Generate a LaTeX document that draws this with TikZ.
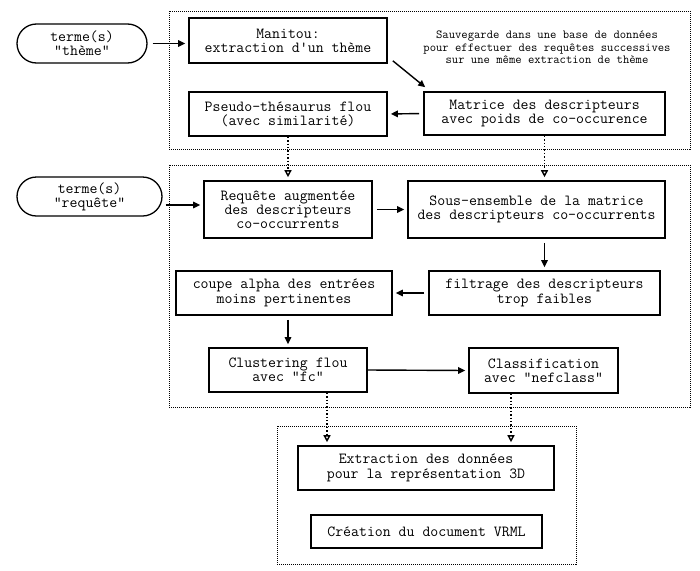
\documentclass[tikz,border=0pt]{standalone}
\usepackage{fontspec}
\usetikzlibrary{arrows.meta}

\begin{document}
\begin{tikzpicture}[x=1pt, y=-1pt, inner sep=3pt]
		\tikzstyle{every node}=[align=center, font=\ttfamily\fontsize{15.4}{14.2}\selectfont]
		\tikzstyle{boite}=[draw, line width=1.6pt]
		\tikzstyle{terme}=[draw, line width=1.3pt, rounded corners=19.5pt]
		\tikzstyle{fleche}=[line width=1.4pt, -{Triangle[length=7pt, width=6.5pt]}, shorten <=4pt, shorten >=3pt]
		\tikzstyle{pointille}=[line width=1.4pt, dotted, -{Triangle[open, length=7pt, width=7pt]}, shorten >=3pt]
		\tikzstyle{cadre}=[line width=0.9pt, dash pattern=on 1pt off 1pt]
		\useasboundingbox (0, 0) rectangle (700, 570);

			% les trois cadres
			\draw[cadre] (169, 11) rectangle (690, 149);
			\draw[cadre] (169, 165) rectangle (690, 407);
			\draw[cadre] (277, 426) rectangle (576, 564);

			\node[terme, minimum width=130, minimum height=39] (theme) at (82, 43.5) {terme(s)\\"thème"};
			\node[terme, minimum width=145, minimum height=39] (terreq) at (89.5, 196.5) {terme(s)\\"requête"};

			\node[boite, minimum width=198, minimum height=45] (manitou) at (288, 40.5) {Manitou:\\extraction d'un thème};
			\node[boite, minimum width=198, minimum height=44] (pseudo) at (288, 114) {Pseudo-thésaurus flou\\(avec similarité)};
			\node[boite, minimum width=241, minimum height=43] (matrice) at (544.5, 113.5) {Matrice des descripteurs\\avec poids de co-occurence};
			\node[font=\ttfamily\fontsize{12.3}{12.5}\selectfont] (sauvegarde) at (547, 47.5) {Sauvegarde dans une base de données\\pour effectuer des requêtes successives\\sur une même extraction de thème};

			\node[boite, minimum width=168, minimum height=57] (reqaug) at (288, 209.5) {Requête augmentée\\des descripteurs\\co-occurrents};
			\node[boite, minimum width=257, minimum height=57] (sousens) at (536.5, 209.5) {Sous-ensemble de la matrice\\des descripteurs co-occurrents};
			\node[boite, minimum width=231, minimum height=44] (filtrage) at (544.5, 293) {filtrage des descripteurs\\trop faibles};
			\node[boite, minimum width=216, minimum height=44] (coupe) at (284, 293) {coupe alpha des entrées\\moins pertinentes};
			\node[boite, minimum width=158, minimum height=44] (clust) at (288, 370) {Clustering flou\\avec "fc"};
			\node[boite, minimum width=149, minimum height=45] (classif) at (543.5, 370.5) {Classification\\avec "nefclass"};

			\node[boite, minimum width=256, minimum height=44] (extraction) at (426, 468) {Extraction des données\\pour la représentation 3D};
			\node[boite, minimum width=231, minimum height=33] (creation) at (426.5, 531.5) {Création du document VRML};

			\draw[fleche, shorten <=5pt] (theme.east) -- (theme.east -| manitou.west);
			\draw[fleche, shorten <=0pt, shorten >=0pt] ([xshift=5pt, yshift=3pt]manitou.south east) -- ([xshift=2pt, yshift=4pt]matrice.north west);
			\draw[fleche] (matrice.west) -- (pseudo.east);
			\draw[pointille] (pseudo.south) -- (reqaug.north);
			\draw[pointille] (matrice.south) -- (matrice.south |- sousens.north);

			\draw[fleche, shorten <=3pt] ([yshift=-8.5pt]terreq.east) -- ([yshift=-8.5pt]terreq.east -| reqaug.west);
			\draw[fleche] (reqaug.east) -- (sousens.west);
			\draw[fleche] (filtrage.north |- sousens.south) -- (filtrage.north);
			\draw[fleche] (filtrage.west) -- (coupe.east);
			\draw[fleche] (clust.north |- coupe.south) -- (clust.north);
			\draw[fleche, shorten <=0pt] (clust.east) -- (classif.west);

			\draw[pointille] ([xshift=39pt]clust.south) -- ([xshift=39pt]clust.south |- extraction.north);
			\draw[pointille] ([xshift=-32.5pt]classif.south) -- ([xshift=-32.5pt]classif.south |- extraction.north);
		\end{tikzpicture}
\end{document}
